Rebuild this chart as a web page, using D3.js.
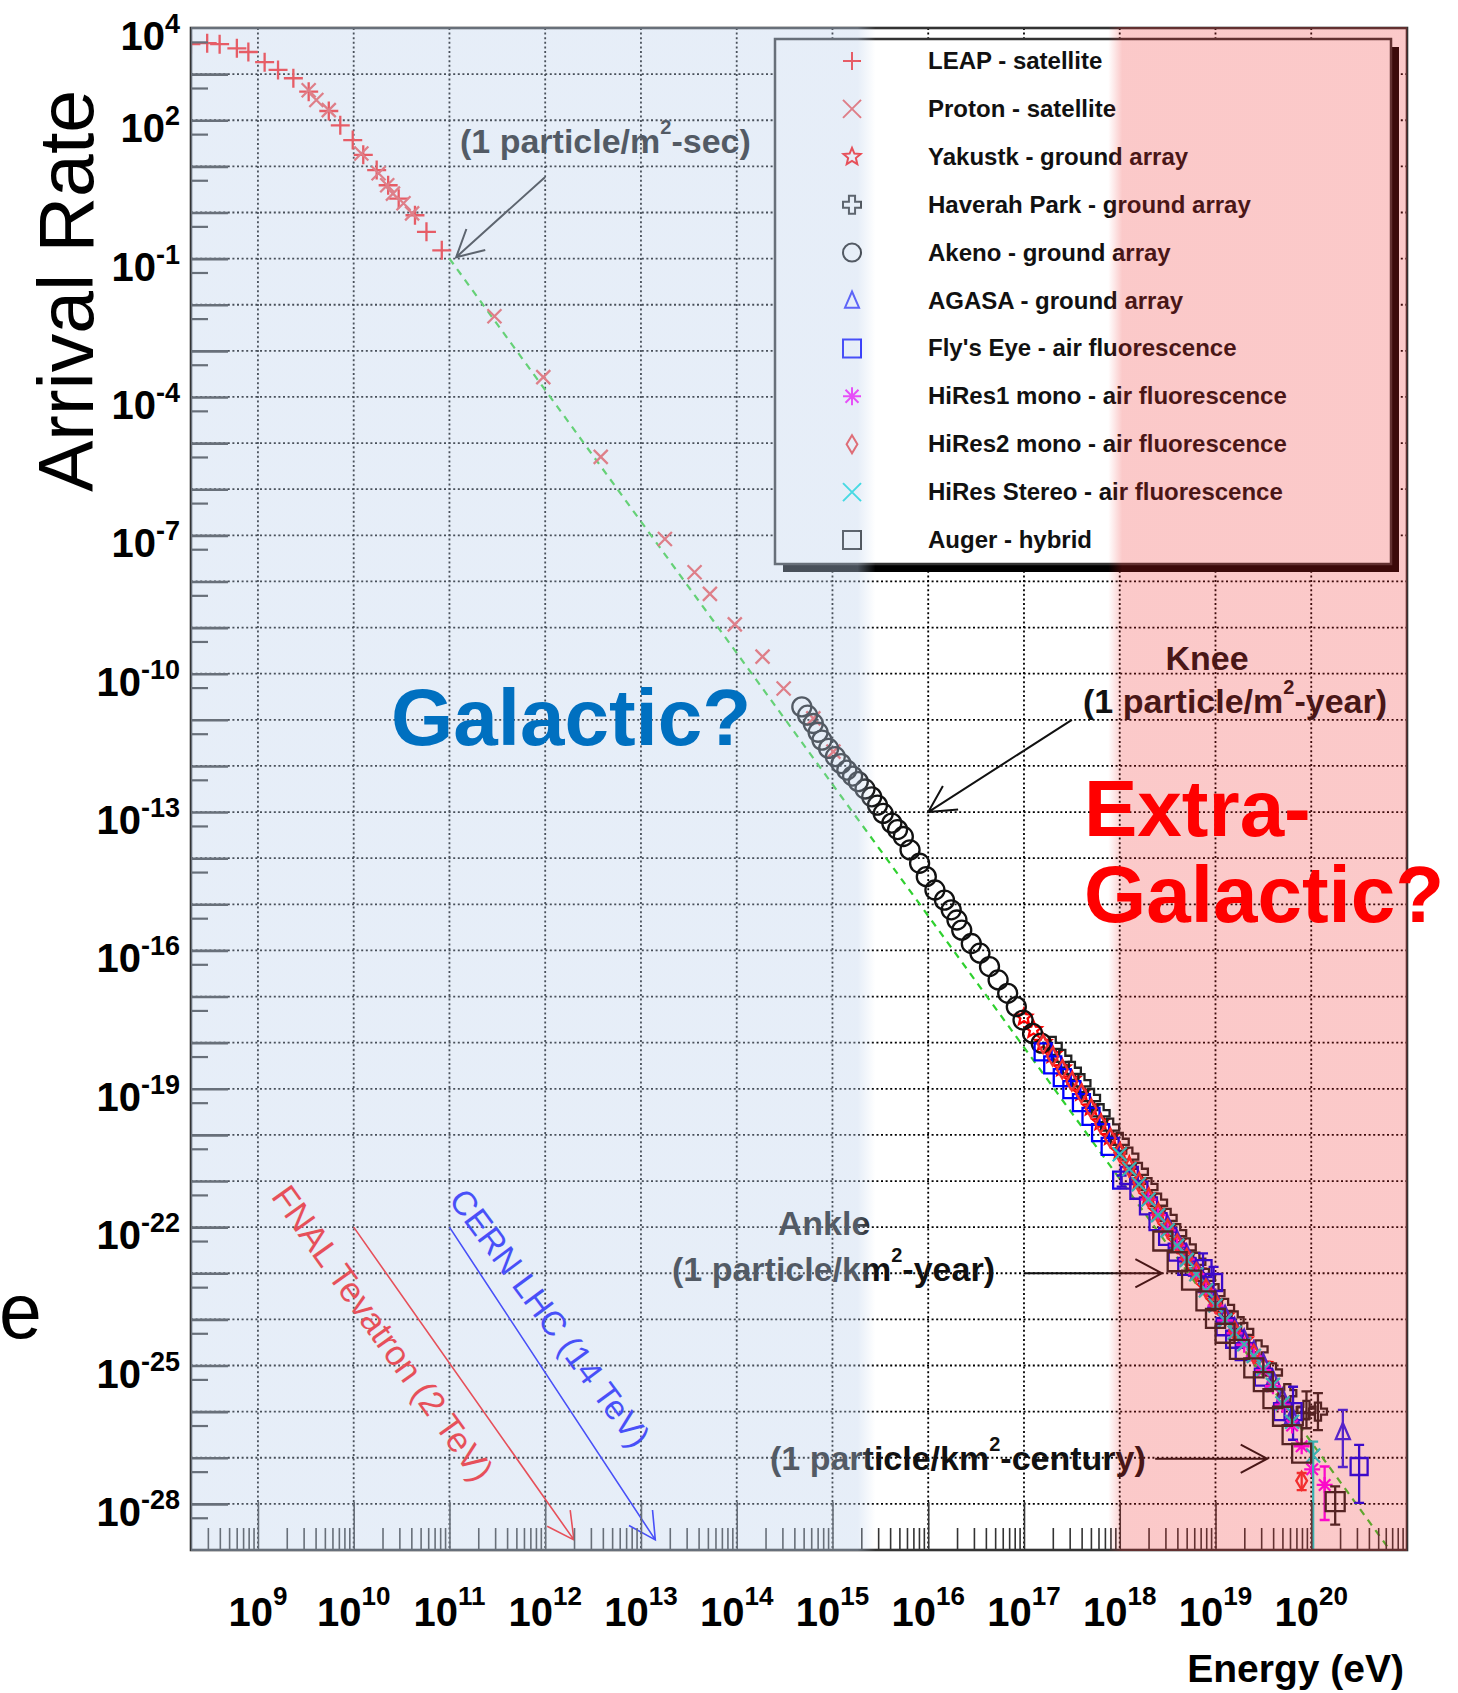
<!DOCTYPE html>
<html>
<head>
<meta charset="utf-8">
<script src="https://cdn.jsdelivr.net/npm/d3@7"></script>
<style>
  body { margin: 0; background: #fff; }
  svg { display: block; }
  text { font-family: "Liberation Sans", Arial, Helvetica, sans-serif; }
</style>
</head>
<body>
<div id="chart"></div>
<script>
// all values are log10(E / eV) and log10(arrival rate)
const leap = [[8.30,3.65],[8.47,3.67],[8.60,3.65],[8.78,3.56],[8.90,3.48],[9.07,3.26],[9.21,3.09],[9.37,2.91],
  [9.53,2.62],[9.74,2.20],[9.86,1.89],[9.99,1.57],[10.10,1.25],[10.24,0.92],[10.36,0.59],[10.47,0.30],
  [10.64,-0.06],[10.76,-0.42],[10.92,-0.82]]
const proton = [[9.53,2.65],[9.61,2.44],[9.74,2.22],[10.08,1.28],[10.26,0.85],[10.35,0.59],[10.41,0.41],
  [10.52,0.20],[10.61,-0.02],[11.47,-2.25],[11.98,-3.57],[12.58,-5.30],[13.25,-7.08],[13.56,-7.80],
  [13.72,-8.27],[13.98,-8.93],[14.27,-9.63],[14.49,-10.32],[14.80,-10.97],[15.01,-11.69]]
const yakutsk = [[17.0,-17.45],[17.1,-17.72],[17.2,-18.0],[17.3,-18.26],[17.4,-18.55],[17.5,-18.8],[17.6,-19.08],
  [17.7,-19.4],[17.8,-19.72],[17.9,-20.04],[18.0,-20.35],[18.1,-20.66],[18.2,-21.0],[18.3,-21.33],[18.4,-21.66],
  [18.5,-22.0],[18.6,-22.32],[18.7,-22.62],[18.8,-22.95],[18.9,-23.3],[19.0,-23.62],[19.1,-23.93],[19.3,-24.45],[19.5,-24.98]]
const haverah = [[17.3,-18.07],[17.4,-18.35],[17.5,-18.61],[17.6,-18.88],[17.7,-19.2],[17.8,-19.53],[17.9,-19.84],
  [18.0,-20.15],[18.1,-20.47],[18.2,-20.8],[18.3,-21.13],[18.4,-21.47],[18.5,-21.8],[18.6,-22.13],[18.7,-22.44],
  [18.8,-22.75],[18.9,-23.1],[19.0,-23.43],[19.1,-23.75],[19.2,-24.02],[19.3,-24.27],[19.45,-24.65],[19.6,-25.15],
  [19.75,-25.6],[19.88,-26.1],[19.95,-25.96,-26.36,-25.56],[20.07,-26.0,-26.4,-25.6]]
const akeno = [[14.68,-10.72],[14.74,-10.90],[14.80,-11.08],[14.85,-11.27],[14.89,-11.44],[14.96,-11.62],[15.03,-11.80],
  [15.09,-11.95],[15.15,-12.09],[15.21,-12.22],[15.27,-12.34],[15.34,-12.50],[15.41,-12.67],[15.47,-12.85],[15.53,-13.03],
  [15.62,-13.24],[15.68,-13.38],[15.74,-13.53],[15.81,-13.82],[15.91,-14.11],[15.98,-14.40],[16.07,-14.69],[16.17,-14.91],
  [16.24,-15.12],[16.30,-15.34],[16.35,-15.56],[16.45,-15.85],[16.54,-16.06],[16.64,-16.35],[16.73,-16.64],[16.83,-16.93],
  [16.92,-17.22],[16.99,-17.51],[17.09,-17.80],[17.18,-18.01]]
const agasa = [[18.5,-21.95],[18.6,-22.28],[18.7,-22.58],[18.8,-22.9],[18.9,-23.25],[19.0,-23.58],[19.1,-23.9],
  [19.2,-24.17],[19.3,-24.42],[19.4,-24.67],[19.5,-24.95],[19.6,-25.3],[19.7,-25.7],[19.8,-26.1],[20.33,-26.44,-27.2,-25.96]]
const flysEye = [[17.2,-18.2],[17.3,-18.48],[17.4,-18.76],[17.5,-19.02],[17.6,-19.3],[17.7,-19.6],[17.8,-19.95],
  [17.9,-20.25],[18.02,-20.98,-21.12,-20.88],[18.1,-20.88],[18.2,-21.2],[18.3,-21.54],[18.4,-21.88],[18.5,-22.2],
  [18.6,-22.54],[18.7,-22.85],[18.87,-22.9,-23.22,-22.57],[18.98,-23.2,-23.51,-22.86],[19.1,-24.16],[19.2,-24.43],
  [19.3,-24.7],[19.5,-25.25],[19.7,-26.0],[19.81,-26.0,-26.61,-25.46],[20.50,-27.19,-27.98,-26.72]]
const hires1 = [[18.3,-21.4],[18.4,-21.74],[18.5,-22.07],[18.6,-22.4],[18.7,-22.7],[18.8,-23.02],[18.9,-23.36],
  [19.0,-23.7],[19.1,-24.02],[19.2,-24.3],[19.3,-24.55],[19.4,-24.8],[19.5,-25.1],[19.6,-25.45],[19.7,-25.85],
  [19.8,-26.3],[19.9,-26.75],[20.01,-27.25],[20.14,-27.59,-28.35,-27.19]]
const hires2 = [[17.2,-18.03],[17.3,-18.3],[17.4,-18.58],[17.5,-18.84],[17.6,-19.1],[17.7,-19.43],[17.8,-19.76],
  [17.9,-20.07],[18.0,-20.38],[18.1,-20.7],[18.2,-21.03],[18.3,-21.36],[18.4,-21.7],[18.5,-22.03],[18.6,-22.36],
  [18.7,-22.67],[18.8,-22.98],[18.9,-23.33],[19.0,-23.66],[19.2,-24.25],[19.4,-24.75],[19.90,-27.5,-27.7,-27.33]]
const hiresStereo = [[18.0,-20.42],[18.1,-20.74],[18.2,-21.07],[18.3,-21.4],[18.4,-21.74],[18.5,-22.07],[18.6,-22.4],
  [18.7,-22.71],[18.8,-23.02],[18.9,-23.37],[19.0,-23.7],[19.1,-24.02],[19.2,-24.29],[19.3,-24.54],[19.4,-24.79],
  [19.5,-25.07],[19.6,-25.42],[19.7,-25.82],[19.8,-26.22],[20.02,-26.95,-29.5,-26.65]]
const auger = [[18.45,-22.3],[18.6,-22.75],[18.75,-23.15],[18.9,-23.6],[19.0,-23.98],[19.1,-24.3],[19.25,-24.65],
  [19.4,-25.05],[19.5,-25.35],[19.6,-25.72],[19.7,-26.1],[19.8,-26.5],[19.9,-26.9],[20.25,-27.95,-28.45,-27.62]]

// dashed green power law
const fitLine = [[11.0,-1.0],[14.0,-9.55],[17.0,-18.1],[20.82,-29.0]]

const legendLabels = ["LEAP - satellite", "Proton - satellite", "Yakustk - ground array",
  "Haverah Park - ground array", "Akeno - ground array", "AGASA - ground array",
  "Fly's Eye - air fluorescence", "HiRes1 mono - air fluorescence", "HiRes2 mono - air fluorescence",
  "HiRes Stereo - air fluorescence", "Auger - hybrid"]

const xDecades = d3.range(9, 21)          // 10^9 .. 10^20
const yDecades = d3.range(3, -29, -1)     // 10^3 .. 10^-28
const yLabelExps = [4, 2, -1, -4, -7, -10, -13, -16, -19, -22, -25, -28]

// shaded regions (log10 E)
const galacticBand = [8.301, 15.45]
const extraBand = [17.88, 21]

const W = 1458, H = 1693
const M = { LEFT: 191, TOP: 28, RIGHT: 1407, BOTTOM: 1550 }

const svg = d3.select('#chart').append('svg').attr('width', W).attr('height', H)
const x = d3.scaleLog().domain([2e8, 1e21]).range([M.LEFT, M.RIGHT])
const y = d3.scaleLog().domain([1e-29, 1e4]).range([M.BOTTOM, M.TOP])
const px = e => x(10 ** e)
const py = f => y(10 ** f)

const defs = svg.append('defs')
defs.append('clipPath').attr('id', 'frame').append('rect')
  .attr('x', M.LEFT).attr('y', M.TOP).attr('width', M.RIGHT - M.LEFT).attr('height', M.BOTTOM - M.TOP)

//grid
const grid = svg.append('g').attr('stroke', '#000').attr('stroke-width', 1.8).attr('stroke-dasharray', '2,2.6')
grid.selectAll('.gx').data(xDecades).join('line').attr('class', 'gx')
  .attr('x1', d => px(d)).attr('x2', d => px(d)).attr('y1', M.TOP).attr('y2', M.BOTTOM)
grid.selectAll('.gy').data(yDecades).join('line').attr('class', 'gy')
  .attr('x1', M.LEFT).attr('x2', M.RIGHT).attr('y1', d => py(d)).attr('y2', d => py(d))

// marker shapes
function shapePath(kind, r) {
  if (kind === 'plus') return `M${-r},0H${r}M0,${-r}V${r}`
  if (kind === 'cross') return `M${-r},${-r}L${r},${r}M${-r},${r}L${r},${-r}`
  if (kind === 'asterisk') { const k = r * 0.72; return `M${-r},0H${r}M0,${-r}V${r}M${-k},${-k}L${k},${k}M${-k},${k}L${k},${-k}` }
  if (kind === 'circle') return `M${r},0A${r},${r} 0 1,1 ${-r},0A${r},${r} 0 1,1 ${r},0Z`
  if (kind === 'square') return `M${-r},${-r}H${r}V${r}H${-r}Z`
  if (kind === 'triangle') return `M0,${-r}L${r * 0.78},${r * 0.8}L${-r * 0.78},${r * 0.8}Z`
  if (kind === 'diamond') return `M0,${-r}L${r * 0.6},0L0,${r}L${-r * 0.6},0Z`
  if (kind === 'opencross') { const a = r * 0.34; return `M${-a},${-r}H${a}V${-a}H${r}V${a}H${a}V${r}H${-a}V${a}H${-r}V${-a}H${-a}Z` }
  if (kind === 'star') {
    const pts = d3.range(10).map(i => {
      const a = -Math.PI / 2 + i * Math.PI / 5, rr = i % 2 ? r * 0.45 : r
      return [rr * Math.cos(a), rr * Math.sin(a)]
    })
    return 'M' + pts.join('L') + 'Z'
  }
}

const series = [
  { data: leap, shape: 'plus', color: '#ff1414', r: 9.5 },
  { data: proton, shape: 'cross', color: '#f24c4c', r: 7 },
  { data: yakutsk, shape: 'star', color: '#ff0000', r: 8.5 },
  { data: haverah, shape: 'opencross', color: '#222', r: 9 },
  { data: akeno, shape: 'circle', color: '#111', r: 9.5 },
  { data: agasa, shape: 'triangle', color: '#2222ff', r: 9 },
  { data: flysEye, shape: 'square', color: '#0000ff', r: 8.5 },
  { data: hires1, shape: 'asterisk', color: '#ff00ff', r: 8 },
  { data: hires2, shape: 'diamond', color: '#f23030', r: 9 },
  { data: hiresStereo, shape: 'cross', color: '#00dede', r: 7 },
  { data: auger, shape: 'square', color: '#222', r: 9.5 }
]

const plot = svg.append('g').attr('clip-path', 'url(#frame)')

plot.append('path').datum(fitLine)
  .attr('d', d3.line().x(d => px(d[0])).y(d => py(d[1])))
  .attr('fill', 'none').attr('stroke', '#2fd02f').attr('stroke-width', 2.2).attr('stroke-dasharray', '7,6')

series.forEach(s => {
  const g = plot.append('g').attr('stroke', s.color).attr('stroke-width', 2.3).attr('fill', 'none')
  const withErr = s.data.filter(d => d.length > 2)
  g.selectAll('.err').data(withErr).join('path').attr('class', 'err')
    .attr('d', d => `M${px(d[0])},${py(d[2])}V${py(d[3])}M${px(d[0]) - 5},${py(d[2])}h10M${px(d[0]) - 5},${py(d[3])}h10`)
  g.selectAll('.mk').data(s.data).join('path').attr('class', 'mk')
    .attr('transform', d => `translate(${px(d[0])},${py(d[1])})`)
    .attr('d', shapePath(s.shape, s.r))
})

// annotations
const ink = svg.append('g').attr('fill', '#111').attr('font-weight', 'bold').attr('font-size', 34)

function arrow(from, to, color, width) {
  const x1 = px(from[0]), y1 = py(from[1]), x2 = px(to[0]), y2 = py(to[1])
  const ang = Math.atan2(y1 - y2, x1 - x2), len = 30, spread = 28 * Math.PI / 180
  const b1 = [x2 + len * Math.cos(ang + spread), y2 + len * Math.sin(ang + spread)]
  const b2 = [x2 + len * Math.cos(ang - spread), y2 + len * Math.sin(ang - spread)]
  svg.append('path')
    .attr('d', `M${x1},${y1}L${x2},${y2}M${b1[0]},${b1[1]}L${x2},${y2}L${b2[0]},${b2[1]}`)
    .attr('fill', 'none').attr('stroke', color).attr('stroke-width', width)
}

function supText(xp, yp, pre, sup, post, anchor) {
  const t = ink.append('text').attr('x', xp).attr('y', yp).attr('text-anchor', anchor || 'start')
  t.append('tspan').text(pre)
  t.append('tspan').attr('font-size', 20).attr('dy', -19).text(sup)
  t.append('tspan').attr('dy', 19).text(post)
}

supText(460, 153, '(1 particle/m', '2', '-sec)')
arrow([12.0, 0.77], [11.07, -0.97], '#222', 2)

ink.append('text').attr('x', 1207).attr('y', 670).attr('text-anchor', 'middle').text('Knee')
supText(1235, 713, '(1 particle/m', '2', '-year)', 'middle')
arrow([17.5, -11.0], [16.0, -13.0], '#111', 2)

ink.append('text').attr('x', 824).attr('y', 1235).attr('text-anchor', 'middle').text('Ankle')
supText(672, 1281, '(1 particle/km', '2', '-year)')
arrow([17.01, -23.0], [18.44, -23.0], '#111', 2)

supText(770, 1470, '(1 particle/km', '2', '-century)')
arrow([18.37, -27.02], [19.54, -27.02], '#111', 2)

arrow([10, -22], [12.30, -28.78], '#ff0000', 1.6)
arrow([11, -22], [13.15, -28.78], '#0000ff', 1.6)
svg.append('text').attr('transform', 'translate(383,1333) rotate(54.5)')
  .attr('text-anchor', 'middle').attr('dominant-baseline', 'central')
  .attr('font-size', 35).attr('fill', '#ff0000').text('FNAL Tevatron (2 TeV)')
svg.append('text').attr('transform', 'translate(550,1318) rotate(53.5)')
  .attr('text-anchor', 'middle').attr('dominant-baseline', 'central')
  .attr('font-size', 34).attr('fill', '#0000ff').text('CERN LHC (14 TeV)')

// legend
const leg = svg.append('g')
leg.append('rect').attr('x', 783).attr('y', 47).attr('width', 616).attr('height', 525).attr('fill', '#000')
leg.append('rect').attr('x', 775).attr('y', 39).attr('width', 616).attr('height', 525)
  .attr('fill', '#fff').attr('stroke', '#333').attr('stroke-width', 2.5)
const rows = leg.selectAll('.row').data(series).join('g').attr('class', 'row')
  .attr('transform', (d, i) => `translate(0,${61 + i * 47.9})`)
rows.append('path').attr('transform', 'translate(852,0)')
  .attr('d', d => shapePath(d.shape, 9)).attr('fill', 'none').attr('stroke', d => d.color).attr('stroke-width', 2)
rows.append('text').attr('x', 928).attr('y', 8).attr('font-size', 24).attr('font-weight', 'bold')
  .attr('fill', '#111').text((d, i) => legendLabels[i])

// axes (ticks drawn inward, no labels)
const minorY = d3.range(-29, 4).map(n => 5 * 10 ** n).filter(v => v > 1e-29 && v < 1e4)
const minorX = []
d3.range(8, 21).forEach(n => d3.range(2, 10).forEach(k => { const v = k * 10 ** n; if (v > 2e8 && v < 1e21) minorX.push(v) }))

const axisCol = '#333'
svg.append('g').attr('transform', `translate(${M.LEFT},0)`)
  .call(d3.axisLeft(y).tickValues(yDecades.map(d => 10 ** d)).tickSize(-37).tickSizeOuter(0).tickFormat(''))
  .call(g => g.selectAll('line').attr('stroke', axisCol).attr('stroke-width', 2.6))
  .call(g => g.select('.domain').remove())
svg.append('g').attr('transform', `translate(${M.LEFT},0)`)
  .call(d3.axisLeft(y).tickValues(minorY).tickSize(-17).tickSizeOuter(0).tickFormat(''))
  .call(g => g.selectAll('line').attr('stroke', axisCol).attr('stroke-width', 2.2))
  .call(g => g.select('.domain').remove())
svg.append('g').attr('transform', `translate(0,${M.BOTTOM})`)
  .call(d3.axisBottom(x).tickValues(xDecades.map(d => 10 ** d)).tickSize(-48).tickSizeOuter(0).tickFormat(''))
  .call(g => g.selectAll('line').attr('stroke', axisCol).attr('stroke-width', 1.6))
  .call(g => g.select('.domain').remove())
svg.append('g').attr('transform', `translate(0,${M.BOTTOM})`)
  .call(d3.axisBottom(x).tickValues(minorX).tickSize(-22).tickSizeOuter(0).tickFormat(''))
  .call(g => g.selectAll('line').attr('stroke', axisCol).attr('stroke-width', 1.6))
  .call(g => g.select('.domain').remove())

svg.append('rect').attr('x', M.LEFT).attr('y', M.TOP).attr('width', M.RIGHT - M.LEFT).attr('height', M.BOTTOM - M.TOP)
  .attr('fill', 'none').attr('stroke', '#333').attr('stroke-width', 2.6)

// translucent region overlays (they tint everything under them)
function band(id, range, color, opacity, fadeLeft, fadeRight) {
  const x0 = Math.max(px(range[0]), M.LEFT), x1 = Math.min(px(range[1]), M.RIGHT + 1)
  const grad = defs.append('linearGradient').attr('id', id).attr('gradientUnits', 'userSpaceOnUse')
    .attr('x1', x0).attr('x2', x1).attr('y1', 0).attr('y2', 0)
  const w = x1 - x0
  grad.append('stop').attr('offset', 0).attr('stop-color', color).attr('stop-opacity', fadeLeft ? 0 : opacity)
  grad.append('stop').attr('offset', fadeLeft ? fadeLeft / w : 0).attr('stop-color', color).attr('stop-opacity', opacity)
  grad.append('stop').attr('offset', fadeRight ? 1 - fadeRight / w : 1).attr('stop-color', color).attr('stop-opacity', opacity)
  grad.append('stop').attr('offset', 1).attr('stop-color', color).attr('stop-opacity', fadeRight ? 0 : opacity)
  svg.append('rect').attr('x', x0).attr('y', M.TOP - 1).attr('width', w).attr('height', M.BOTTOM - M.TOP + 2)
    .attr('fill', `url(#${id})`)
}
band('galFade', galacticBand, 'rgb(190,210,236)', 0.38, 0, 18)
band('exFade', extraBand, 'rgb(240,40,40)', 0.25, 14, 0)

// region labels on top
svg.append('text').attr('x', 391).attr('y', 745).attr('font-size', 80).attr('font-weight', 'bold')
  .attr('fill', '#0070c0').text('Galactic?')
const ex = svg.append('text').attr('font-size', 80).attr('font-weight', 'bold').attr('fill', '#ff0000')
ex.append('tspan').attr('x', 1084).attr('y', 836).text('Extra-')
ex.append('tspan').attr('x', 1084).attr('y', 922).text('Galactic?')

// tick labels
const yl = svg.append('g').attr('font-weight', 'bold').attr('fill', '#000')
yl.selectAll('text').data(yLabelExps).join('text')
  .attr('x', 180).attr('y', d => py(d) + 22).attr('text-anchor', 'end')
  .each(function (d) {
    const t = d3.select(this)
    t.append('tspan').attr('font-size', 40).text('10')
    t.append('tspan').attr('font-size', 27).attr('dy', -17).text(d)
  })
const xl = svg.append('g').attr('font-weight', 'bold').attr('fill', '#000')
xl.selectAll('text').data(xDecades).join('text')
  .attr('x', d => px(d)).attr('y', 1626).attr('text-anchor', 'middle')
  .each(function (d) {
    const t = d3.select(this)
    t.append('tspan').attr('font-size', 40).text('10')
    t.append('tspan').attr('font-size', 26).attr('dy', -21).text(d)
  })

//axis titles
svg.append('text').attr('x', 1404).attr('y', 1682).attr('text-anchor', 'end')
  .attr('font-size', 39).attr('font-weight', 'bold').text('Energy (eV)')
svg.append('text').attr('transform', 'translate(93,291) rotate(-90)').attr('text-anchor', 'middle')
  .attr('font-size', 77).text('Arrival Rate')
svg.append('text').attr('x', -1).attr('y', 1338).attr('font-size', 77).text('e')
</script>
</body>
</html>
